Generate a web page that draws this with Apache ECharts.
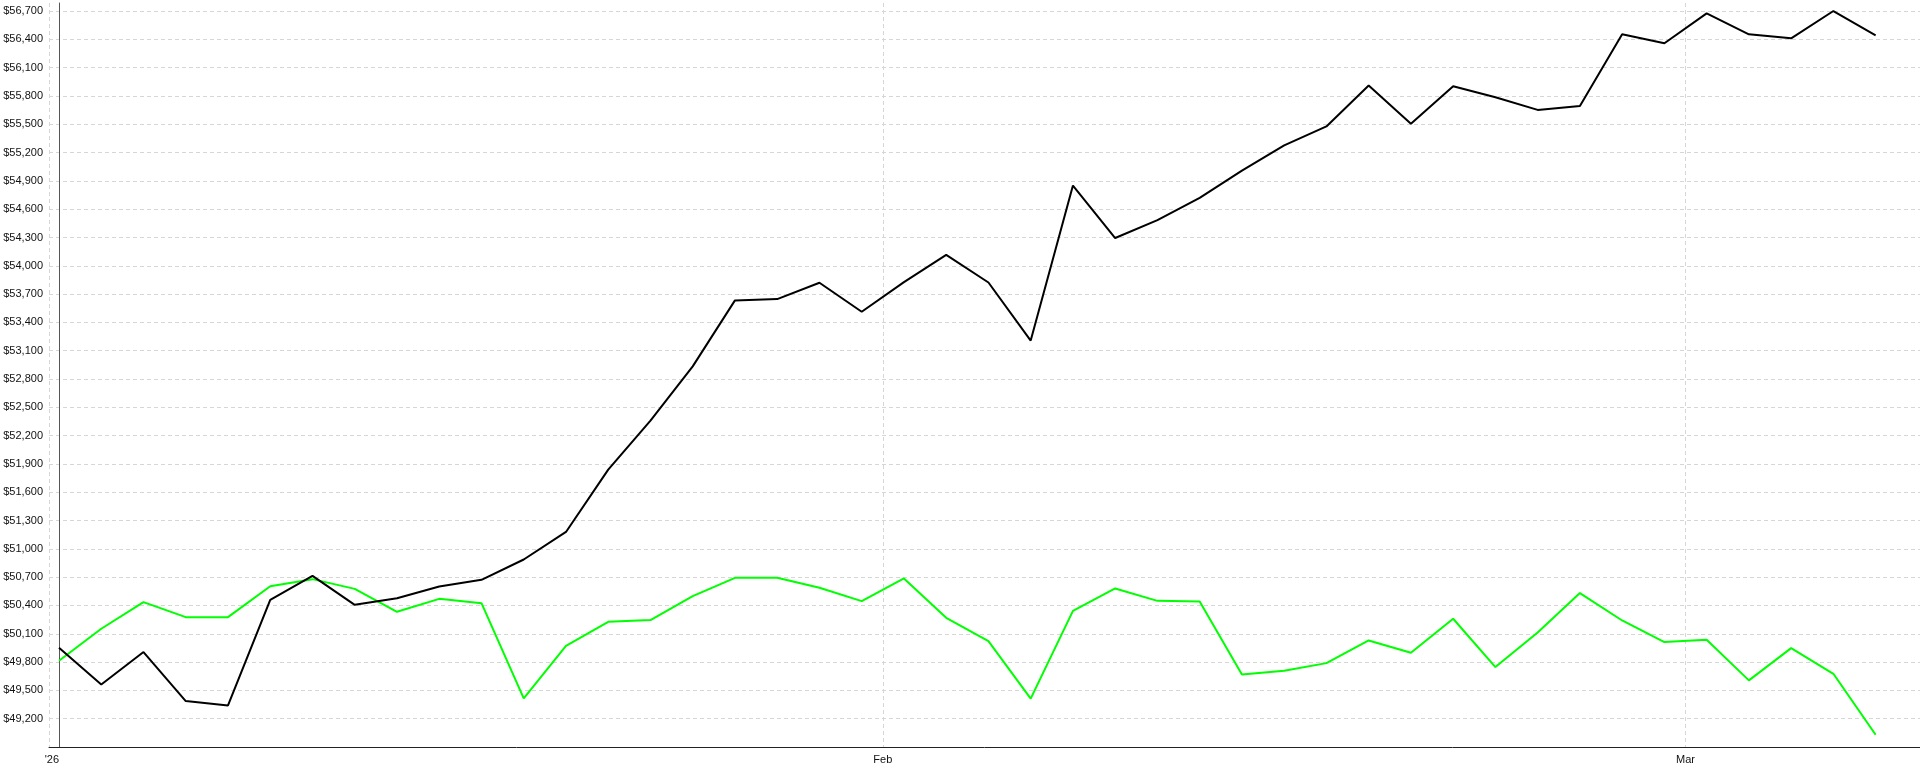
<!DOCTYPE html>
<html>
<head>
<meta charset="utf-8">
<script src="https://cdn.jsdelivr.net/npm/echarts@6/dist/echarts.min.js"></script>
<style>
html,body{margin:0;padding:0;background:#fff;}
#chart{width:1920px;height:776px;}
</style>
</head>
<body>
<div id="chart"></div>
<script>
// Trading days, Jan 2 – Mar 6, 2026
var dates = [
  '2026-01-02','2026-01-05','2026-01-06','2026-01-07','2026-01-08','2026-01-09',
  '2026-01-12','2026-01-13','2026-01-14','2026-01-15','2026-01-16',
  '2026-01-20','2026-01-21','2026-01-22','2026-01-23',
  '2026-01-26','2026-01-27','2026-01-28','2026-01-29','2026-01-30',
  '2026-02-02','2026-02-03','2026-02-04','2026-02-05','2026-02-06',
  '2026-02-09','2026-02-10','2026-02-11','2026-02-12','2026-02-13',
  '2026-02-17','2026-02-18','2026-02-19','2026-02-20',
  '2026-02-23','2026-02-24','2026-02-25','2026-02-26','2026-02-27',
  '2026-03-02','2026-03-03','2026-03-04','2026-03-05','2026-03-06'
];
var blackValues = [
  49952, 49563, 49906, 49387, 49341, 50460, 50714, 50407, 50477, 50601, 50672,
  50887, 51179, 51840, 52358, 52934, 53633, 53647, 53820, 53513, 53827, 54116,
  53823, 53207, 54850, 54294, 54484, 54720, 55009, 55276, 55477, 55910, 55505,
  55903, 55786, 55652, 55694, 56453, 56358, 56675, 56453, 56411, 56700, 56442
];
var greenValues = [
  49814, 50153, 50435, 50276, 50276, 50604, 50679, 50576, 50333, 50470, 50424,
  49415, 49973, 50227, 50245, 50499, 50693, 50693, 50587, 50446, 50686, 50269,
  50022, 49412, 50343, 50580, 50449, 50442, 49669, 49708, 49789, 50029, 49899,
  50259, 49747, 50114, 50531, 50241, 50012, 50036, 49606, 49948, 49676, 49030
];
var yTicks = [
  49200, 49500, 49800, 50100, 50400, 50700, 51000, 51300, 51600, 51900, 52200,
  52500, 52800, 53100, 53400, 53700, 54000, 54300, 54600, 54900, 55200, 55500,
  55800, 56100, 56400, 56700
];
var monthLabels = ["'26", 'Feb', 'Mar'];
var monthLabelPos = [-0.17, 19.5, 38.5];
var monthTickPos = [-0.237, 19.5, 38.5];

function pairs(vals) {
  return vals.map(function (v, i) { return [i, v]; });
}
function monthLabelFor(v) {
  var best = 0, bd = Infinity;
  for (var i = 0; i < monthLabelPos.length; i++) {
    var d = Math.abs(monthLabelPos[i] - v);
    if (d < bd) { bd = d; best = i; }
  }
  return monthLabels[best];
}

var chart = echarts.init(document.getElementById('chart'));
chart.setOption({
  animation: false,
  backgroundColor: '#ffffff',
  textStyle: { fontFamily: 'Liberation Sans, Arial, sans-serif' },
  grid: { left: 49, right: 0, top: 3, bottom: 29, containLabel: false, outerBoundsMode: 'none' },
  xAxis: {
    type: 'value',
    min: -0.237,
    max: 44.05,
    axisLine: { show: true, onZero: false, lineStyle: { color: '#222', width: 1 } },
    axisTick: { show: false, customValues: monthTickPos },
    minorTick: { show: false },
    axisLabel: {
      show: true, customValues: monthLabelPos, color: '#111', fontSize: 11, margin: 7,
      fontFamily: 'Liberation Sans, Arial, sans-serif',
      formatter: function (v) { return monthLabelFor(v); }
    },
    splitLine: { show: true, lineStyle: { color: '#d6d6d6', type: [4, 3], width: 1 } }
  },
  yAxis: {
    type: 'value',
    min: 48900,
    max: 56785,
    axisLine: { show: true, lineStyle: { color: '#555', width: 1 } },
    axisTick: { show: false, customValues: yTicks },
    axisLabel: {
      customValues: yTicks, color: '#111', fontSize: 11, margin: 6,
      fontFamily: 'Liberation Sans, Arial, sans-serif',
      formatter: function (v) { return '$' + Math.round(v).toLocaleString('en-US'); }
    },
    splitLine: { show: true, lineStyle: { color: '#d6d6d6', type: [4, 3], width: 1 } }
  },
  series: [
    {
      name: 'Green', type: 'line', data: pairs(greenValues), showSymbol: false, symbol: 'none',
      lineStyle: { color: '#00ff00', width: 2 }, itemStyle: { color: '#00ff00' }, z: 2
    },
    {
      name: 'Black', type: 'line', data: pairs(blackValues), showSymbol: false, symbol: 'none',
      lineStyle: { color: '#000000', width: 2 }, itemStyle: { color: '#000000' }, z: 3
    }
  ]
});
</script>
</body>
</html>
